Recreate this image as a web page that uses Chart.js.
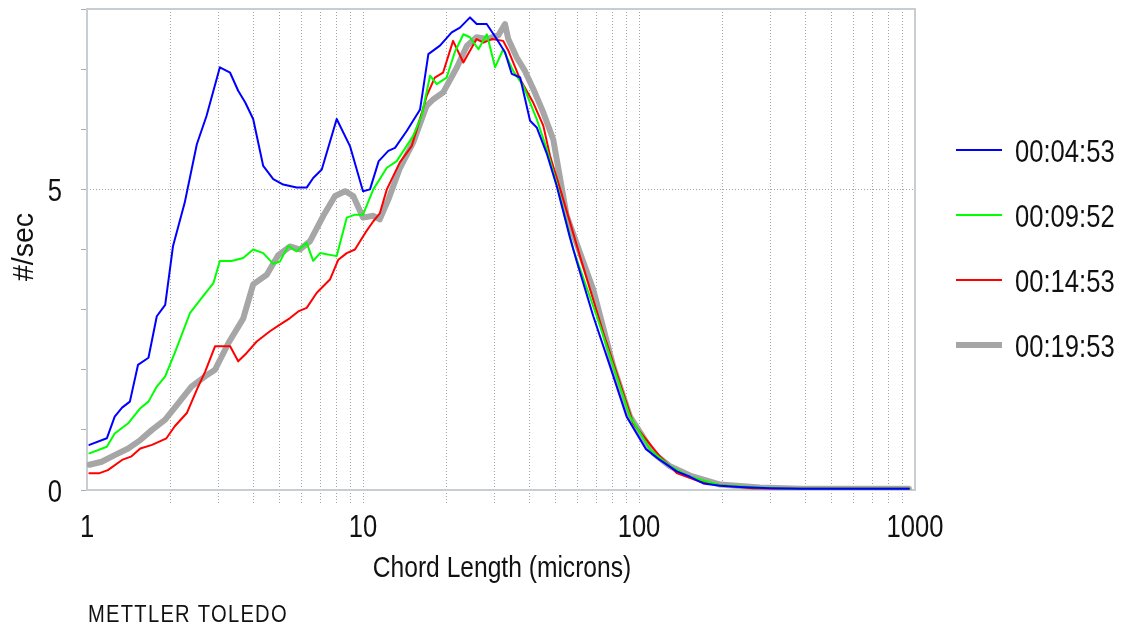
<!DOCTYPE html>
<html lang="en">
<head>
<meta charset="UTF-8">
<title>Chord Length Distribution</title>
<script src="https://cdn.jsdelivr.net/npm/chart.js"></script>
<style>
  body { margin: 0; background: #fff; }
  #wrap { width: 1126px; height: 629px; }
</style>
</head>
<body>
<div id="wrap"><canvas id="cld" width="1126" height="629"></canvas></div>
<script>
// chord length in microns (x) and counts #/sec (y), one pair of arrays per sample time
const blueX = [1.02,1.18,1.26,1.34,1.43,1.53,1.67,1.79,1.92,2.05,2.26,2.50,2.71,3.03,3.30,3.53,3.74,4.00,4.35,4.73,5.14,5.75,6.25,6.60,7.09,8.03,8.97,10.0,10.6,11.4,12.35,13.06,14.4,16.1,17.25,19.0,20.96,22.46,24.42,25.82,28.07,30.5,32.7,34.6,37.1,40.3,42.6,46.3,50.3,56.2,59.5,68.3,78.5,90.2,106,119,137,153,171,197,232,298,383,950];
const blueY = [0.75,0.86,1.22,1.37,1.47,2.08,2.2,2.89,3.08,4.06,4.78,5.75,6.22,7.03,6.94,6.64,6.45,6.17,5.39,5.17,5.08,5.03,5.03,5.19,5.33,6.17,5.72,4.97,5.0,5.47,5.64,5.69,5.97,6.33,7.25,7.39,7.61,7.69,7.86,7.75,7.75,7.5,7.28,6.92,6.86,6.14,6.03,5.6,5.06,4.2,3.8,2.89,2.06,1.22,0.68,0.5,0.31,0.22,0.11,0.07,0.05,0.03,0.02,0.02];

const greenX = [1.02,1.18,1.26,1.41,1.56,1.67,1.79,1.92,2.08,2.36,2.60,2.87,3.03,3.34,3.68,4.00,4.35,4.73,5.00,5.36,5.75,6.25,6.60,6.99,8.03,8.73,9.35,10.0,10.9,12.2,13.25,15.2,16.3,17.5,18.5,20.1,21.5,23.1,24.4,26.2,28.1,30.1,32.2,35.0,38.1,42.6,46.3,50.3,57.8,70.3,80.7,92.8,110,129,153,197,274,352,950];
const greenY = [0.61,0.72,0.94,1.11,1.36,1.47,1.72,1.89,2.28,2.94,3.19,3.44,3.81,3.81,3.86,4.0,3.94,3.76,3.8,4.06,3.97,4.11,3.81,3.94,3.89,4.53,4.58,4.58,5.0,5.36,5.47,5.89,6.22,6.89,6.75,6.86,7.28,7.58,7.53,7.33,7.58,7.03,7.33,6.97,6.72,6.17,5.67,5.1,4.0,2.89,2.06,1.22,0.67,0.4,0.22,0.08,0.04,0.02,0.02];

const redX = [1.02,1.11,1.19,1.34,1.45,1.56,1.72,1.94,2.08,2.30,2.50,2.68,2.91,3.30,3.53,3.79,4.12,4.60,5.00,5.44,5.83,6.25,6.80,7.59,8.14,8.73,9.35,10.2,10.9,11.5,12.2,13.6,15.0,16.1,17.0,18.2,19.5,21.2,23.1,25.8,27.3,29.3,32.2,33.6,37.1,41.4,45.0,47.6,53.2,61.1,74.3,85.3,95.3,119,137,166,197,232,259,383,950];
const redY = [0.28,0.28,0.33,0.5,0.56,0.69,0.75,0.86,1.06,1.28,1.67,1.97,2.39,2.39,2.14,2.28,2.47,2.64,2.75,2.86,2.97,3.03,3.28,3.5,3.83,3.94,4.0,4.28,4.47,4.6,5.0,5.45,5.72,6.17,6.55,6.86,6.94,7.47,7.11,7.5,7.44,7.5,7.47,7.31,6.83,6.44,6.06,5.56,4.83,3.89,2.61,1.78,1.11,0.56,0.28,0.14,0.08,0.05,0.03,0.02,0.02];

const grayX = [1.02,1.13,1.26,1.41,1.56,1.72,1.92,2.14,2.39,2.68,2.91,3.25,3.68,4.00,4.48,4.92,5.44,5.91,6.43,7.18,7.92,8.61,9.22,10.0,10.9,11.5,12.35,13.6,15.2,17.0,18.0,19.5,21.9,23.8,25.8,28.1,30.9,32.7,33.6,36.1,38.6,41.4,45.0,48.9,54.7,68.3,80.7,92.8,113,129,153,197,274,383,950];
const grayY = [0.42,0.47,0.58,0.69,0.83,1.0,1.17,1.44,1.72,1.89,2.0,2.44,2.85,3.42,3.58,3.9,4.05,4.0,4.14,4.56,4.89,4.97,4.89,4.53,4.56,4.5,4.83,5.35,5.78,6.39,6.5,6.61,7.03,7.39,7.53,7.5,7.56,7.75,7.5,7.19,6.97,6.67,6.28,5.83,4.56,3.33,2.06,1.22,0.61,0.4,0.24,0.09,0.04,0.02,0.02];

const seriesNames = ['00:04:53', '00:09:52', '00:14:53', '00:19:53'];

// log grid positions and the labelled ones
const xGridTicks = [1,2,3,4,5,6,7,8,9,10,20,30,40,50,60,70,80,90,100,200,300,400,500,600,700,800,900,1000];
const xLabelTicks = [1, 10, 100, 1000];
const yLabelTicks = [0, 5];

function pts(xs, ys) {
  return xs.map(function (x, i) { return { x: x, y: ys[i] }; });
}

const GRID = '#a4a4a4';
const FRAME = '#c8cdd1';
const INK = '#111';
const FONT = '"Liberation Sans", Arial, sans-serif';

// tall narrow lettering like the instrument software
function tallText(ctx, txt, x, y, size, sx, align) {
  ctx.save();
  ctx.translate(x, y);
  ctx.scale(sx, 1);
  ctx.font = size + 'px ' + FONT;
  ctx.fillStyle = INK;
  ctx.textAlign = align;
  ctx.textBaseline = 'alphabetic';
  ctx.fillText(txt, 0, 0);
  ctx.restore();
}

const extras = {
  id: 'extras',
  beforeDatasetsDraw(chart) {
    const ctx = chart.ctx, a = chart.chartArea;
    ctx.save();
    ctx.strokeStyle = FRAME;
    ctx.lineWidth = 2;
    ctx.strokeRect(a.left, a.top, a.right - a.left, a.bottom - a.top);
    ctx.restore();
  },
  afterDraw(chart) {
    const ctx = chart.ctx;
    const xs = chart.scales.x, ys = chart.scales.y;

    xLabelTicks.forEach(function (v) {
      tallText(ctx, String(v), xs.getPixelForValue(v), 537, 32, 0.8, 'center');
    });
    yLabelTicks.forEach(function (v) {
      tallText(ctx, String(v), 62, ys.getPixelForValue(v) + 12, 32, 0.8, 'right');
    });

    tallText(ctx, 'Chord Length (microns)', 502, 577, 30, 0.82, 'center');

    ctx.save();
    ctx.translate(33, 247);
    ctx.rotate(-Math.PI / 2);
    tallText(ctx, '#/sec', 0, 0, 30, 0.95, 'center');
    ctx.restore();

    ctx.save();
    ctx.letterSpacing = '1.5px';
    tallText(ctx, 'METTLER TOLEDO', 88, 622, 24, 0.84, 'left');
    ctx.restore();

    // legend
    chart.data.datasets.forEach(function (ds, i) {
      const y = 150 + i * 65;
      ctx.save();
      ctx.strokeStyle = ds.borderColor;
      ctx.lineWidth = ds.borderWidth;
      ctx.beginPath();
      ctx.moveTo(956, y);
      ctx.lineTo(1002, y);
      ctx.stroke();
      ctx.restore();
      tallText(ctx, ds.label, 1015, y + 12, 32, 0.8, 'left');
    });
  }
};

const config = {
  type: 'line',
  data: {
    datasets: [
      { label: seriesNames[0], data: pts(blueX, blueY), borderColor: '#0000ff', borderWidth: 2 },
      { label: seriesNames[1], data: pts(greenX, greenY), borderColor: '#00ff00', borderWidth: 2 },
      { label: seriesNames[2], data: pts(redX, redY), borderColor: '#ff0000', borderWidth: 2 },
      { label: seriesNames[3], data: pts(grayX, grayY), borderColor: '#a6a6a6', borderWidth: 6 }
    ]
  },
  options: {
    responsive: false,
    animation: false,
    events: [],
    layout: { padding: { left: 81, right: 211, top: 9, bottom: 124 } },
    elements: {
      point: { radius: 0 },
      line: { tension: 0, fill: false, borderJoinStyle: 'round', borderCapStyle: 'round' }
    },
    plugins: { legend: { display: false }, tooltip: { enabled: false }, title: { display: false } },
    scales: {
      x: {
        type: 'logarithmic',
        min: 1,
        max: 1000,
        afterBuildTicks: function (scale) {
          scale.ticks = xGridTicks.map(function (v) { return { value: v }; });
        },
        afterFit: function (scale) { scale.height = 15; },
        ticks: { display: false },
        border: { display: false, dash: [1, 2] },
        grid: {
          color: function (c) {
            return (c.tick && (c.tick.value === 1 || c.tick.value === 1000)) ? 'rgba(0,0,0,0)' : GRID;
          },
          lineWidth: 1,
          tickLength: 15,
          tickBorderDash: [1, 2]
        }
      },
      y: {
        min: 0,
        max: 8,
        afterBuildTicks: function (scale) {
          scale.ticks = [0,1,2,3,4,5,6,7,8].map(function (v) { return { value: v }; });
        },
        afterFit: function (scale) { scale.width = 6; },
        ticks: { display: false },
        border: { display: false, dash: [1, 2] },
        grid: {
          color: function (c) {
            return (c.tick && c.tick.value === 5) ? GRID : 'rgba(0,0,0,0)';
          },
          tickColor: '#a9b0b5',
          tickLength: 6,
          tickBorderDash: []
        }
      }
    }
  },
  plugins: [extras]
};

new Chart(document.getElementById('cld'), config);
</script>
</body>
</html>
